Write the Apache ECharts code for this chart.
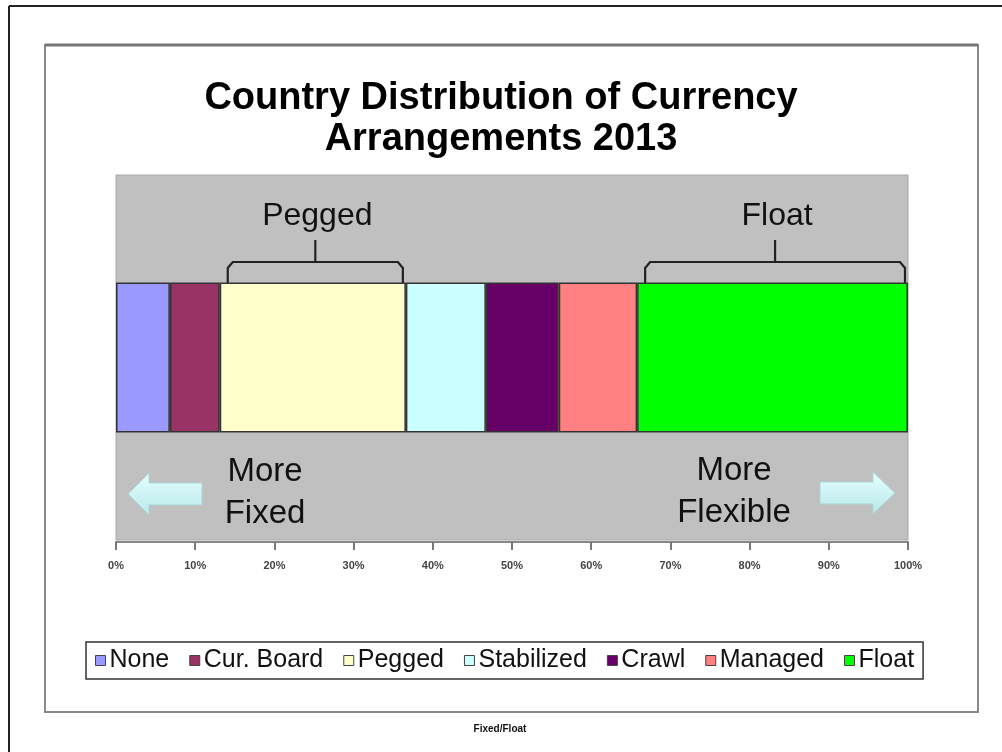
<!DOCTYPE html>
<html>
<head>
<meta charset="utf-8">
<script src="https://cdn.jsdelivr.net/npm/echarts@6/dist/echarts.min.js"></script>
<style>
  html, body { margin: 0; padding: 0; background: #fff; }
  #chart { width: 1002px; height: 752px; }
</style>
</head>
<body>
<div id="chart"></div>
<script>
// share of countries by arrangement, 2013 (percent)
const categories = ['Fixed/Float'];
const seriesNames = ['None', 'Cur. Board', 'Pegged', 'Stabilized', 'Crawl', 'Managed', 'Float'];
const seriesValues = [6.8, 6.3, 23.5, 10.1, 9.2, 9.9, 34.2];
const seriesColors = ['#9999ff', '#993366', '#ffffcc', '#ccffff', '#660066', '#ff8080', '#00ff00'];
const xTicks = [0, 10, 20, 30, 40, 50, 60, 70, 80, 90, 100];

const FONT = 'Arial, "Liberation Sans", sans-serif';

const chart = echarts.init(document.getElementById('chart'));

const series = seriesNames.map((name, i) => ({
  name,
  type: 'bar',
  stack: 'all',
  barWidth: 150,
  data: [seriesValues[i]],
  itemStyle: { color: seriesColors[i], borderColor: '#333', borderWidth: 1.5 },
  emphasis: { disabled: true },
}));

const option = {
  animation: false,
  backgroundColor: '#fff',
  textStyle: { fontFamily: FONT },
  title: {
    text: 'Country Distribution of Currency\nArrangements 2013',
    left: 'center',
    top: 73,
    textStyle: { fontSize: 38, fontWeight: 'bold', color: '#000', lineHeight: 41, fontFamily: FONT },
  },
  grid: {
    left: 116, right: 94, top: 175, bottom: 212,
    show: true, backgroundColor: '#c0c0c0', borderColor: '#a8a8a8', borderWidth: 1,
  },
  legend: {
    data: seriesNames,
    top: 642,
    left: 86,
    itemWidth: 10,
    itemHeight: 10,
    itemGap: 20,
    padding: [6, 9],
    borderColor: '#333',
    borderWidth: 1.5,
    icon: 'rect',
    itemStyle: { borderColor: '#444', borderWidth: 1 },
    textStyle: { fontSize: 25, color: '#111', fontFamily: FONT, padding: [0, 0, 0, -1] },
  },
  xAxis: {
    type: 'value',
    min: xTicks[0],
    max: xTicks[xTicks.length - 1],
    interval: 10,
    position: 'bottom',
    offset: 2,
    axisLine: { show: true, lineStyle: { color: '#888', width: 2 } },
    axisTick: { show: true, length: 8, lineStyle: { color: '#777', width: 2 } },
    splitLine: { show: false },
    axisLabel: {
      formatter: '{value}%', fontSize: 11, fontWeight: 'bold', color: '#444', margin: 18,
    },
  },
  yAxis: {
    type: 'category',
    data: categories,
    show: false,
  },
  series,
};

chart.setOption(option);

// annotations: brackets over the pegged and float groups, arrows below
function bracket(fromPct, toPct, label) {
  const x1 = chart.convertToPixel({ xAxisIndex: 0 }, fromPct) + 8;
  const x2 = chart.convertToPixel({ xAxisIndex: 0 }, toPct) - 3;
  const xm = (x1 + x2) / 2;
  const yTop = 262;
  const yBot = 284;
  const stroke = { stroke: '#222', lineWidth: 2.2, fill: null };
  return [
    {
      type: 'polyline',
      shape: { points: [[x1, yBot], [x1, yTop + 6], [x1 + 5, yTop], [x2 - 5, yTop], [x2, yTop + 6], [x2, yBot]] },
      style: stroke,
    },
    { type: 'line', shape: { x1: xm, y1: yTop, x2: xm, y2: 240 }, style: stroke },
    {
      type: 'text', x: xm + 2, y: 216,
      style: { text: label, font: `32px ${FONT}`, fill: '#111', align: 'center', verticalAlign: 'middle' },
    },
  ];
}

function arrow(xTip, xTail, yMid, headLen) {
  const dir = xTail > xTip ? 1 : -1;
  const head = headLen * dir;
  const hh = 21;
  const sh = 11;
  return {
    type: 'polygon',
    shape: {
      points: [
        [xTip, yMid], [xTip + head, yMid - hh], [xTip + head, yMid - sh], [xTail, yMid - sh],
        [xTail, yMid + sh], [xTip + head, yMid + sh], [xTip + head, yMid + hh],
      ],
    },
    style: {
      fill: new echarts.graphic.LinearGradient(0, 0, 0, 1, [
        { offset: 0, color: '#e6ffff' },
        { offset: 1, color: '#b8e8ea' },
      ]),
      stroke: '#aad6d8', lineWidth: 1,
    },
  };
}

const cum = [];
seriesValues.reduce((acc, v) => { cum.push(acc); return acc + v; }, 0);
const peggedIdx = seriesNames.indexOf('Pegged');
const floatIdx = seriesNames.indexOf('Float');

const graphics = [
  // outer frame
  { type: 'line', shape: { x1: 9, y1: 6, x2: 1002, y2: 6 }, style: { stroke: '#222', lineWidth: 2 } },
  { type: 'line', shape: { x1: 9, y1: 6, x2: 9, y2: 752 }, style: { stroke: '#222', lineWidth: 2 } },
  // chart area box
  {
    type: 'rect', z: -10, shape: { x: 45, y: 45, width: 933, height: 667 },
    style: { fill: '#fff', stroke: '#888', lineWidth: 2 },
  },
  { type: 'line', shape: { x1: 45, y1: 45, x2: 978, y2: 45 }, style: { stroke: '#777', lineWidth: 3 } },
  ...bracket(cum[peggedIdx], cum[peggedIdx] + seriesValues[peggedIdx], 'Pegged'),
  ...bracket(cum[floatIdx], 100, 'Float'),
  arrow(128, 202, 494, 21),
  arrow(895, 820, 493, 22),
  {
    type: 'text', x: 265, y: 493,
    style: { text: 'More\nFixed', font: `33px ${FONT}`, lineHeight: 42, fill: '#111', align: 'center', verticalAlign: 'middle' },
  },
  {
    type: 'text', x: 734, y: 492,
    style: { text: 'More\nFlexible', font: `33px ${FONT}`, lineHeight: 42, fill: '#111', align: 'center', verticalAlign: 'middle' },
  },
  {
    type: 'text', x: 500, y: 729,
    style: { text: categories[0], font: `bold 10px ${FONT}`, fill: '#111', align: 'center', verticalAlign: 'middle' },
  },
];

chart.setOption({ graphic: graphics });
</script>
</body>
</html>
